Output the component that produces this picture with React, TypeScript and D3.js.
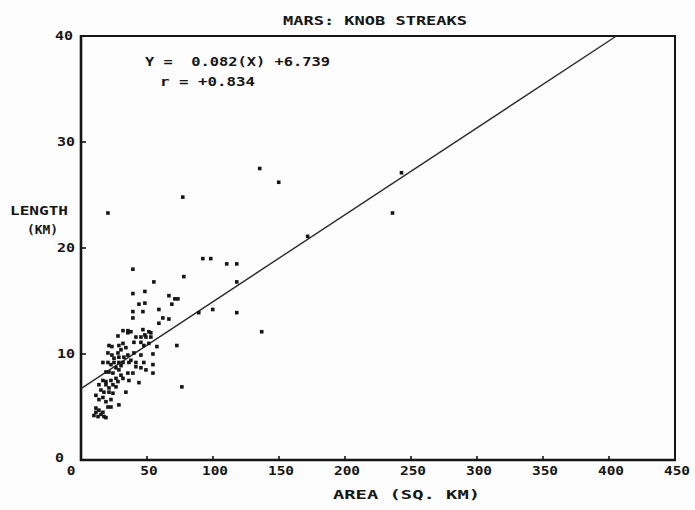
import React from "react";
import * as d3 from "d3";

const areaKm2: number[] = [
  20.4, 77.1, 135.4, 149.8, 171.7, 242.8, 236.0, 92.3, 98.3, 110.4,
  118.0, 77.9, 55.2, 118.0, 66.6, 71.1, 73.4, 68.8, 59.0, 62.0,
  66.6, 59.0, 89.2, 99.8, 118.0, 136.9, 72.6, 54.5, 54.5, 76.4,
  52.9, 39.3, 48.4, 39.3, 43.9, 48.4, 39.3, 46.9, 39.3, 31.8,
  35.5, 37.8, 46.9, 51.4, 28.0, 41.6, 45.4, 49.2, 35.5, 48.4,
  52.9, 21.2, 23.4, 28.7, 31.8, 40.1, 45.4, 47.6, 51.4, 20.4,
  23.4, 28.0, 28.7, 32.5, 35.5, 40.1, 45.4, 16.6, 20.4, 25.0,
  28.7, 31.8, 36.3, 41.6, 47.6, 26.5, 28.7, 41.6, 45.4, 49.2,
  18.9, 21.2, 24.2, 35.5, 39.3, 54.5, 16.6, 18.9, 22.7, 28.0,
  31.8, 36.3, 13.6, 18.9, 24.2, 26.5, 43.9, 17.4, 21.2, 24.2,
  11.3, 16.6, 34.0, 13.6, 18.9, 22.7, 20.4, 22.7, 11.3, 13.6,
  16.6, 28.7, 9.8, 12.9, 17.4, 18.9, 15.1, 11.3, 57.5, 30.3,
  34.0, 25.0, 37.8, 22.7, 30.3, 26.5, 21.2, 15.1, 30.3,
];

const lengthKm: number[] = [
  23.3, 24.8, 27.5, 26.2, 21.1, 27.1, 23.3, 19.0, 19.0, 18.5,
  18.5, 17.3, 16.8, 16.8, 15.5, 15.2, 15.2, 14.7, 14.2, 13.4,
  13.3, 12.9, 13.9, 14.2, 13.9, 12.1, 10.8, 10.0, 9.0, 6.9,
  12.0, 18.0, 15.9, 15.7, 14.7, 14.8, 14.0, 14.0, 13.4, 12.2,
  12.2, 12.1, 12.3, 12.1, 11.7, 11.6, 11.6, 11.6, 12.0, 11.8,
  11.6, 10.8, 10.7, 10.8, 11.0, 11.1, 11.1, 10.8, 11.0, 10.1,
  9.9, 10.1, 9.7, 9.7, 9.9, 10.1, 9.9, 9.2, 9.2, 9.2,
  9.2, 9.2, 9.2, 9.2, 9.2, 8.7, 8.5, 8.8, 8.7, 8.5,
  8.3, 8.3, 8.2, 8.2, 8.2, 8.2, 7.5, 7.4, 7.5, 7.4,
  7.7, 7.5, 7.1, 7.1, 7.1, 6.9, 7.3, 6.4, 6.4, 6.3,
  6.1, 5.9, 6.4, 5.7, 5.5, 5.7, 5.0, 5.0, 4.9, 4.7,
  4.5, 5.2, 4.2, 4.1, 4.1, 4.0, 4.3, 4.5, 10.7, 10.4,
  10.6, 9.6, 9.4, 9.0, 8.0, 7.7, 6.8, 6.6, 8.9,
];

const xTicks: number[] = [0, 50, 100, 150, 200, 250, 300, 350, 400, 450];
const yTicks: number[] = [0, 10, 20, 30, 40];

const slope = 0.082;
const intercept = 6.739;
const rValue = "+0.834";

const titleText = "MARS: KNOB STREAKS";
const xTitle = "AREA (SQ. KM)";
const yTitle1 = "LENGTH";
const yTitle2 = "(KM)";

const FONT = "'DejaVu Sans Mono', monospace";

export default function App() {
  const x = d3.scaleLinear().domain([0, 450]).range([81, 675]);
  const y = d3.scaleLinear().domain([0, 40]).range([460, 36]);

  const xEnd = (40 - intercept) / slope;
  const lineGen = d3
    .line<number>()
    .x((d) => x(d))
    .y((d) => y(slope * d + intercept));
  const regPath = lineGen([0, xEnd]) || "";

  const ink = "#151515";
  const textStyle: React.CSSProperties = {
    fontFamily: FONT,
    fontWeight: "bold",
    fontSize: 12,
    fill: ink,
  };

  return (
    <svg
      width={695}
      height={510}
      style={{ position: "absolute", left: 0, top: 0, background: "#fdfdfd" }}
    >
      <rect x={0} y={0} width={695} height={510} fill="#fdfdfd" />
      {/* title */}
      <text x={283} y={25} textLength={184} lengthAdjust="spacingAndGlyphs" style={textStyle}>
        {titleText}
      </text>

      {/* frame */}
      <line x1={x(0)} x2={x(450)} y1={y(40)} y2={y(40)} stroke={ink} strokeWidth={2} />
      <line x1={x(450)} x2={x(450)} y1={y(40) - 1} y2={y(0)} stroke={ink} strokeWidth={2} />
      <line x1={x(0)} x2={x(0)} y1={y(40) - 1} y2={y(0) + 1} stroke={ink} strokeWidth={2.6} />
      <line x1={x(0) - 1} x2={x(450) + 1} y1={y(0)} y2={y(0)} stroke={ink} strokeWidth={2.6} />

      {/* x ticks */}
      {xTicks.map((t) => (
        <g key={"xt" + t}>
          <line x1={x(t)} x2={x(t)} y1={y(0)} y2={y(0) - 4} stroke={ink} strokeWidth={1.6} />
          <text
            x={t === 0 ? x(t) - 10 : x(t) + 2}
            y={475}
            textAnchor="middle"
            textLength={String(t).length * 8.7}
            lengthAdjust="spacingAndGlyphs"
            style={textStyle}
          >
            {t}
          </text>
        </g>
      ))}

      {/* y ticks */}
      {yTicks.map((t) => (
        <g key={"yt" + t}>
          <line x1={x(0)} x2={x(0) + 5} y1={y(t)} y2={y(t)} stroke={ink} strokeWidth={1.6} />
          <text
            x={t === 0 ? 64 : t === 40 ? 73 : 75}
            y={t === 0 ? y(t) + 2 : y(t) + 4}
            textAnchor="end"
            textLength={String(t).length * 9}
            lengthAdjust="spacingAndGlyphs"
            style={textStyle}
          >
            {t}
          </text>
        </g>
      ))}

      {/* axis titles */}
      <text x={333} y={499} textLength={147} lengthAdjust="spacingAndGlyphs" style={textStyle}>
        {xTitle}
      </text>
      <text x={10} y={215} textLength={58} lengthAdjust="spacingAndGlyphs" style={textStyle}>
        {yTitle1}
      </text>
      <text x={27} y={234} textLength={31} lengthAdjust="spacingAndGlyphs" style={textStyle}>
        {yTitle2}
      </text>

      {/* equation */}
      <text x={145} y={66} textLength={185} lengthAdjust="spacingAndGlyphs" style={textStyle} xmlSpace="preserve">
        {`Y =  ${slope.toFixed(3)}(X) +${intercept.toFixed(3)}`}
      </text>
      <text x={160} y={86} textLength={95} lengthAdjust="spacingAndGlyphs" style={textStyle}>
        {`r = ${rValue}`}
      </text>

      {/* regression line */}
      <path d={regPath} fill="none" stroke="#2a2a2a" strokeWidth={1.4} />

      {/* points */}
      {areaKm2.map((a, i) => (
        <rect
          key={"p" + i}
          x={x(a) - 1.8}
          y={y(lengthKm[i]) - 1.8}
          width={3.6}
          height={3.6}
          fill={ink}
        />
      ))}
    </svg>
  );
}
